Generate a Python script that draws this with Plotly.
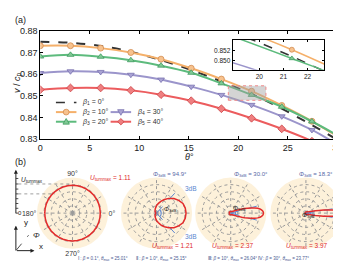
import plotly.graph_objects as go

W, H = 341, 264


def px(x):
    return x / W


def py(y):
    return 1 - y / H


# ---------------- panel (a) data ----------------
theta_markers = [0, 3.05, 6.1, 9.15, 12.2, 15.25, 18.3, 21.35, 24.4, 27.45]
theta_curve = [0, 3.05, 6.1, 9.15, 12.2, 15.25, 18.3, 21.35, 24.4, 27.45, 30]

v_beta1 = [0.8749, 0.8745, 0.8730, 0.8703, 0.8665, 0.8619, 0.8566, 0.8508, 0.8440, 0.8365, 0.8297]
v_beta2 = [0.8731, 0.8731, 0.8720, 0.8700, 0.8669, 0.8627, 0.8577, 0.8521, 0.8455, 0.8382, 0.8313]
v_beta3 = [0.8681, 0.8689, 0.8680, 0.8664, 0.8639, 0.8606, 0.8557, 0.8504, 0.8449, 0.8381, 0.8318]
v_beta4 = [0.8605, 0.8613, 0.8610, 0.8597, 0.8575, 0.8542, 0.8504, 0.8458, 0.8405, 0.8342, 0.8275]
v_beta5 = [0.8528, 0.8536, 0.8536, 0.8525, 0.8505, 0.8477, 0.8440, 0.8396, 0.8347, 0.8290, 0.8225]

legend_labels = ["<i>β</i><sub>1</sub> = 0°", "<i>β</i><sub>2</sub> = 10°", "<i>β</i><sub>3</sub> = 20°",
                 "<i>β</i><sub>4</sub> = 30°", "<i>β</i><sub>5</sub> = 40°"]

x_ticks = [0, 5, 10, 15, 20, 25, 30]
y_ticks = [0.83, 0.84, 0.85, 0.86, 0.87, 0.88]
inset_x_ticks = [20, 21, 22]
inset_y_ticks = [0.850, 0.852]
zoom_box_x = [19.0, 22.8]
zoom_box_y = [0.8479, 0.8546]

# ---------------- panel (b) data (half patterns, symmetric about 0°) ----------------
ang_I = [0, 10, 20, 30, 40, 50, 60, 70, 80, 90, 100, 110, 120, 130, 140, 150, 160, 170, 180]
pat_I = [0.78, 0.78, 0.78, 0.78, 0.78, 0.78, 0.78, 0.78, 0.78, 0.78, 0.78, 0.78, 0.78, 0.78, 0.78,
         0.78, 0.78, 0.78, 0.78]

ang_II = [0, 10, 20, 30, 40, 50, 60, 70, 80, 90, 100, 110, 120, 130, 140, 150, 160, 170, 180]
pat_II = [0.83, 0.82, 0.79, 0.72, 0.64, 0.54, 0.44, 0.35, 0.27, 0.21, 0.15, 0.11, 0.08, 0.06, 0.04,
          0.03, 0.02, 0.015, 0.01]

ang_III = [0, 2, 4, 6, 8, 10, 12, 14, 16, 18, 20, 25, 30, 40, 50, 60, 90, 120, 150, 180]
pat_III = [0.92, 0.915, 0.90, 0.87, 0.83, 0.77, 0.69, 0.60, 0.50, 0.41, 0.33, 0.20, 0.13, 0.08, 0.06,
           0.05, 0.045, 0.045, 0.045, 0.045]

ang_IV = [0, 1, 2, 3, 4, 5, 6, 7, 8, 9, 10, 12, 14, 17, 20, 30, 45, 90, 180]
pat_IV = [0.94, 0.935, 0.925, 0.91, 0.885, 0.85, 0.80, 0.73, 0.65, 0.57, 0.50, 0.37, 0.27, 0.18,
          0.13, 0.07, 0.05, 0.035, 0.03]

phi3db = [None, 94.9, 30.0, 18.3]
u_max = [1.11, 1.21, 2.37, 3.97]
captions = ["Ⅰ : <i>β</i> = 0.1°, <i>θ</i><sub>max</sub> = 25.01°",
            "Ⅱ : <i>β</i> = 1.0°, <i>θ</i><sub>max</sub> = 25.15°",
            "Ⅲ: <i>β</i> = 10°, <i>θ</i><sub>max</sub> = 26.04°",
            "Ⅳ: <i>β</i> = 30°, <i>θ</i><sub>max</sub> = 23.77°"]

FONT = "Liberation Sans, Arial, sans-serif"
colors = ["#333333", "#f5b06a", "#5dbb7d", "#9b95cb", "#ec5c5e"]
mk_fill = [None, "#f7c28e", "#80c994", "#a9a3d3", "#ef7f80"]
mk_line = [None, "#d38d52", "#3f9a60", "#7a72b0", "#cc4144"]
symbols = [None, "circle", "triangle-up", "triangle-down", "diamond"]
series = [v_beta1, v_beta2, v_beta3, v_beta4, v_beta5]

fig = go.Figure()

for ax_suffix, msize in (("", 6), ("2", 5)):
    xa, ya = "x" + ax_suffix, "y" + ax_suffix
    for i, vals in enumerate(series):
        fig.add_trace(go.Scatter(
            x=theta_curve, y=vals, mode="lines", xaxis=xa, yaxis=ya,
            line=dict(color=colors[i], width=2 if ax_suffix == "" else 1.5,
                      dash="dash" if i == 0 else "solid", shape="spline"),
            showlegend=False, hoverinfo="skip"))
        if symbols[i]:
            fig.add_trace(go.Scatter(
                x=theta_markers, y=vals[:len(theta_markers)], mode="markers", xaxis=xa, yaxis=ya,
                marker=dict(symbol=symbols[i], size=msize, color=mk_fill[i],
                            line=dict(color=mk_line[i], width=0.8)),
                showlegend=False, hoverinfo="skip"))

# ---------------- polar plots ----------------
R = 37
centers = [(63, 208), (149, 208), (225, 208), (302, 208)]
BLUE = "#5d86cf"
pats = [(ang_I, pat_I), (ang_II, pat_II), (ang_III, pat_III), (ang_IV, pat_IV)]
for k, (angs, pat) in enumerate(pats):
    sp = "polar" if k == 0 else "polar%d" % (k + 1)
    full_t = [-a for a in angs[::-1]] + angs[1:]
    full_r = pat[::-1] + pat[1:]
    if phi3db[k] is not None:
        half = phi3db[k] / 2
        for sgn in (1, -1):
            fig.add_trace(go.Scatterpolar(
                r=[0, 1.22], theta=[0, sgn * half], mode="lines", subplot=sp,
                line=dict(color=BLUE, width=1, dash="dash"), cliponaxis=False,
                showlegend=False, hoverinfo="skip"))
        arc_t = [-half + j * phi3db[k] / 12 for j in range(13)]
        fig.add_trace(go.Scatterpolar(
            r=[0.13] * len(arc_t), theta=arc_t,
            mode="lines", subplot=sp, line=dict(color=BLUE, width=1.2),
            showlegend=False, hoverinfo="skip"))
    fig.add_trace(go.Scatterpolar(
        r=full_r, theta=full_t, mode="lines", subplot=sp,
        line=dict(color="#e32b2b", width=1.5),
        showlegend=False, hoverinfo="skip"))

layout_polars = {}
for k, (cx, cy) in enumerate(centers):
    key = "polar" if k == 0 else "polar%d" % (k + 1)
    layout_polars[key] = dict(
        domain=dict(x=[px(cx - R), px(cx + R)], y=[py(cy + R), py(cy - R)]),
        bgcolor="#fdf1da",
        radialaxis=dict(range=[0, 1], showticklabels=False, ticks="", showline=False,
                        tickvals=[0.2, 0.4, 0.6, 0.8], gridcolor="#9a9a9a", griddash="dot",
                        gridwidth=0.7),
        angularaxis=dict(tickvals=list(range(0, 360, 30)),
                         ticktext=["0°", "", "", "90°", "", "", "180°", "", "", "270°", "", ""],
                         showticklabels=(k == 0), ticks="", showline=False,
                         gridcolor="#9a9a9a", griddash="dot", gridwidth=0.7,
                         tickfont=dict(size=7, color="#333")),
    )

ax_common = dict(showline=True, linecolor="black", linewidth=1, mirror="ticks", ticks="inside",
                 showgrid=False, zeroline=False, tickcolor="black")

fig.update_layout(
    width=W, height=H, margin=dict(l=0, r=0, t=0, b=0),
    paper_bgcolor="white", plot_bgcolor="white",
    font=dict(family=FONT, size=9, color="#222"),
    xaxis=dict(domain=[px(30), px(334)], range=[0, 30], tickvals=x_ticks, ticklen=3,
               tickfont=dict(size=9), **ax_common),
    yaxis=dict(domain=[py(131), py(18.5)], range=[0.83, 0.88], tickvals=y_ticks, ticklen=3,
               tickformat=".2f", tickfont=dict(size=9), **ax_common),
    xaxis2=dict(domain=[px(227), px(321)], range=[18.9, 22.7], tickvals=inset_x_ticks, ticklen=2,
                tickfont=dict(size=6.5), anchor="y2", **ax_common),
    yaxis2=dict(domain=[py(59), py(28)], range=[0.8482, 0.8540], tickvals=inset_y_ticks, ticklen=2,
                tickformat=".3f", tickfont=dict(size=6.5), anchor="x2", **ax_common),
    showlegend=False,
    **layout_polars,
)

shapes = []
annotations = []

# inset background + zoom box
shapes.append(dict(type="rect", xref="paper", yref="paper", x0=px(227), x1=px(321), y0=py(59), y1=py(28),
                   fillcolor="white", line=dict(width=0), layer="below"))
shapes.append(dict(type="rect", xref="x", yref="y", x0=zoom_box_x[0], x1=zoom_box_x[1],
                   y0=zoom_box_y[0], y1=zoom_box_y[1], fillcolor="rgba(160,160,160,0.45)",
                   line=dict(color="#f08a8a", width=1, dash="dot")))

# manual legend
rows = [93, 103, 113]
leg_items = [(0, 46, rows[0]), (1, 46, rows[1]), (2, 46, rows[2]), (3, 102, rows[1]), (4, 102, rows[2])]
for i, x0, yy in leg_items:
    shapes.append(dict(type="line", xref="paper", yref="paper", x0=px(x0), x1=px(x0 + 21),
                       y0=py(yy), y1=py(yy),
                       line=dict(color=colors[i], width=2 if i else 1.6, dash="dash" if i == 0 else "solid")))
    cx = x0 + 10.5
    s = 3
    if symbols[i] == "circle":
        shapes.append(dict(type="circle", xref="paper", yref="paper", x0=px(cx - s), x1=px(cx + s),
                           y0=py(yy + s), y1=py(yy - s), fillcolor=mk_fill[i], line=dict(color=mk_line[i], width=0.8)))
    elif symbols[i] == "triangle-up":
        path = "M %f,%f L %f,%f L %f,%f Z" % (px(cx), py(yy - 3.3), px(cx - 3.3), py(yy + 2.5), px(cx + 3.3), py(yy + 2.5))
        shapes.append(dict(type="path", xref="paper", yref="paper", path=path, fillcolor=mk_fill[i],
                           line=dict(color=mk_line[i], width=0.8)))
    elif symbols[i] == "triangle-down":
        path = "M %f,%f L %f,%f L %f,%f Z" % (px(cx), py(yy + 3.3), px(cx - 3.3), py(yy - 2.5), px(cx + 3.3), py(yy - 2.5))
        shapes.append(dict(type="path", xref="paper", yref="paper", path=path, fillcolor=mk_fill[i],
                           line=dict(color=mk_line[i], width=0.8)))
    elif symbols[i] == "diamond":
        path = "M %f,%f L %f,%f L %f,%f L %f,%f Z" % (px(cx), py(yy - 3.3), px(cx + 3.3), py(yy),
                                                     px(cx), py(yy + 3.3), px(cx - 3.3), py(yy))
        shapes.append(dict(type="path", xref="paper", yref="paper", path=path, fillcolor=mk_fill[i],
                           line=dict(color=mk_line[i], width=0.8)))
    annotations.append(dict(xref="paper", yref="paper", x=px(x0 + 25), y=py(yy), text=legend_labels[i],
                            showarrow=False, xanchor="left", yanchor="middle", font=dict(size=7, color="#333")))

# panel labels and axis titles
annotations += [
    dict(xref="paper", yref="paper", x=px(2), y=py(7), text="(a)", showarrow=False, xanchor="left",
         yanchor="middle", font=dict(size=9)),
    dict(xref="paper", yref="paper", x=px(2), y=py(155), text="(b)", showarrow=False, xanchor="left",
         yanchor="middle", font=dict(size=9)),
    dict(xref="paper", yref="paper", x=px(7), y=py(72), text="<i>v</i> / <i>c</i><sub>p</sub>",
         showarrow=False, textangle=-90, xanchor="center", yanchor="middle", font=dict(size=9)),
    dict(xref="paper", yref="paper", x=px(183), y=py(150), text="<i>θ</i>°", showarrow=False,
         xanchor="center", yanchor="middle", font=dict(size=9)),
]

# polar texts
RED = "#e02a2a"
TBLUE = "#5668a6"
title_pos = [None, (163, 168), (246, 168), (312, 168)]
u_pos = [(102, 172), (166, 248), (227, 248), (303, 248)]
cap_pos = [(67, 260.5), (154, 260.5), (227, 260.5), (307, 260.5)]
for k in range(4):
    if title_pos[k]:
        annotations.append(dict(xref="paper", yref="paper", x=px(title_pos[k][0]), y=py(title_pos[k][1]),
                                text="<i>Φ</i><sub>3dB</sub> = %.1f°" % phi3db[k], showarrow=False,
                                xanchor="center", font=dict(size=6, color=TBLUE)))
    annotations.append(dict(xref="paper", yref="paper", x=px(u_pos[k][0]), y=py(u_pos[k][1]),
                            text="<i>U</i><sub>turnmax</sub> = %.2f" % u_max[k], showarrow=False,
                            xanchor="center", font=dict(size=6.5, color=RED)))
    annotations.append(dict(xref="paper", yref="paper", x=px(cap_pos[k][0]), y=py(cap_pos[k][1]),
                            text=captions[k], showarrow=False, font=dict(size=4.5, color="#4a5a92")))

# Φ3dB inner labels and 3dB labels
annotations += [
    dict(xref="paper", yref="paper", x=px(163), y=py(210), text="<i>Φ</i><sub>3dB</sub>", showarrow=False,
         font=dict(size=6, color="#222")),
    dict(xref="paper", yref="paper", x=px(243), y=py(209), text="<i>Φ</i><sub>3dB</sub>", showarrow=False,
         font=dict(size=6, color="#222")),
    dict(xref="paper", yref="paper", x=px(313), y=py(216), text="<i>Φ</i><sub>3dB</sub>", showarrow=False,
         font=dict(size=6, color="#222")),
    dict(xref="paper", yref="paper", x=px(184), y=py(188), text="3dB", showarrow=False,
         font=dict(size=6.5, color=BLUE)),
    dict(xref="paper", yref="paper", x=px(184), y=py(238), text="3dB", showarrow=False,
         font=dict(size=6.5, color=BLUE)),
]

# left gauge axis
annotations.append(dict(xref="paper", yref="paper", x=px(5), y=py(163), ax=0, ay=45, axref="pixel",
                        ayref="pixel", text="", showarrow=True, arrowhead=2, arrowsize=0.8,
                        arrowwidth=1, arrowcolor="#222"))
for yy in [172, 177.7, 183, 188, 193, 198, 203, 208]:
    shapes.append(dict(type="line", xref="paper", yref="paper", x0=px(5), x1=px(7.5), y0=py(yy), y1=py(yy),
                       line=dict(color="#222", width=0.8)))
shapes.append(dict(type="line", xref="paper", yref="paper", x0=px(7.5), x1=px(63), y0=py(177.7), y1=py(177.7),
                   line=dict(color="#777", width=0.7, dash="dot")))
shapes.append(dict(type="line", xref="paper", yref="paper", x0=px(7.5), x1=px(45), y0=py(188), y1=py(188),
                   line=dict(color="#777", width=0.7, dash="dot")))
annotations += [
    dict(xref="paper", yref="paper", x=px(8), y=py(174), text="<i>U</i><sub>turnmax</sub>", showarrow=False,
         xanchor="left", yanchor="middle", font=dict(size=6.5, color="#222")),
    dict(xref="paper", yref="paper", x=px(6), y=py(208), text="0", showarrow=False,
         xanchor="left", yanchor="middle", borderpad=0, font=dict(size=6, color="#222")),
]

# xy icon
annotations.append(dict(xref="paper", yref="paper", x=px(5), y=py(221), ax=0, ay=26, axref="pixel",
                        ayref="pixel", text="", showarrow=True, arrowhead=2, arrowsize=0.8,
                        arrowwidth=1, arrowcolor="#222"))
annotations.append(dict(xref="paper", yref="paper", x=px(24), y=py(247), ax=-19, ay=0, axref="pixel",
                        ayref="pixel", text="", showarrow=True, arrowhead=2, arrowsize=0.8,
                        arrowwidth=1, arrowcolor="#222"))
shapes.append(dict(type="line", xref="paper", yref="paper", x0=px(5), x1=px(18), y0=py(247), y1=py(231),
                   line=dict(color="#222", width=0.8, dash="dash")))
annotations += [
    dict(xref="paper", yref="paper", x=px(11), y=py(224), text="y", showarrow=False, font=dict(size=8)),
    dict(xref="paper", yref="paper", x=px(27), y=py(249), text="x", showarrow=False, font=dict(size=8)),
    dict(xref="paper", yref="paper", x=px(20), y=py(238), text="<i>Φ</i>", showarrow=False, font=dict(size=8)),
]

fig.update_layout(shapes=shapes, annotations=annotations)
fig.write_html("out.html")
